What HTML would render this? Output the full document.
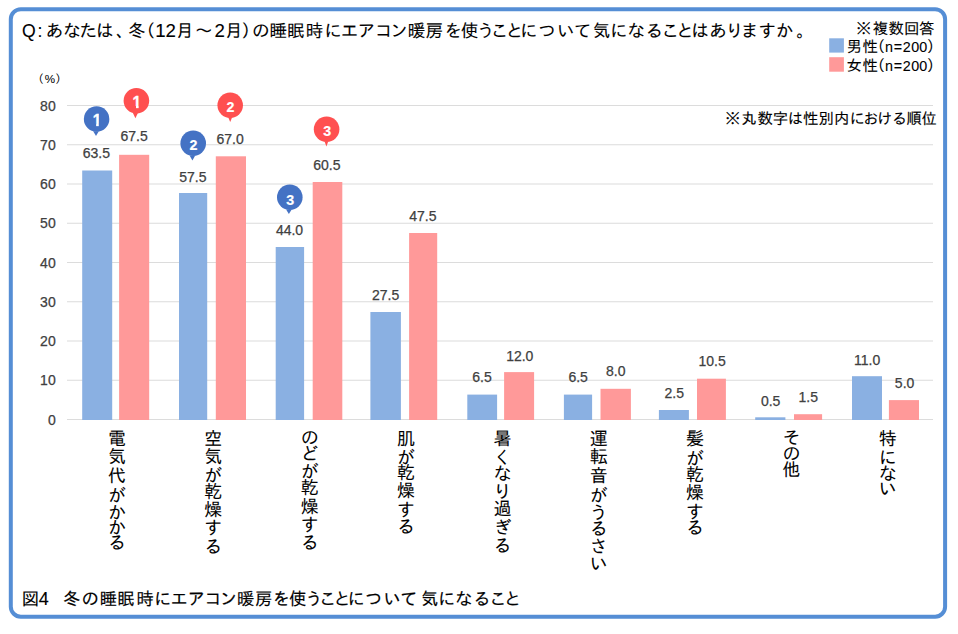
<!DOCTYPE html>
<html lang="ja"><head><meta charset="utf-8"><title>図4 冬の睡眠時にエアコン暖房を使うことについて気になること</title>
<style>html,body{margin:0;padding:0;background:#fff}body{width:958px;height:634px;overflow:hidden}svg{display:block}text{font-family:'Liberation Sans','IPAGothic','Noto Sans CJK JP',sans-serif}.n{font-family:'Liberation Sans',sans-serif;fill:#404040}.w{font-family:'Liberation Sans',sans-serif;font-weight:bold;fill:#fff}</style></head><body>
<svg width="958" height="634" viewBox="0 0 958 634">
<rect width="958" height="634" fill="#fff"/>
<rect x="10.8" y="9.25" width="934.3" height="607.4" rx="10" ry="10" fill="#fff" stroke="#558ED5" stroke-width="4"/>
<g fill="#DCDCDC"><rect x="67" y="105" width="866" height="1"/><rect x="67" y="144.25" width="866" height="1"/><rect x="67" y="183.5" width="866" height="1"/><rect x="67" y="222.75" width="866" height="1"/><rect x="67" y="262" width="866" height="1"/><rect x="67" y="301.25" width="866" height="1"/><rect x="67" y="340.5" width="866" height="1"/><rect x="67" y="379.75" width="866" height="1"/><rect x="67" y="419" width="866" height="1"/></g>
<g fill="#8AB0E2"><rect x="82.2" y="170.5" width="30" height="249.5"/><rect x="179" y="193" width="28.2" height="227"/><rect x="275.7" y="247" width="28.4" height="173"/><rect x="370.4" y="312" width="30.5" height="108"/><rect x="467.3" y="394.6" width="29.8" height="25.4"/><rect x="563.9" y="394.6" width="28.2" height="25.4"/><rect x="658.9" y="410" width="30" height="10"/><rect x="755.2" y="417.3" width="30.2" height="2.7"/><rect x="852" y="376.2" width="30" height="43.8"/><rect x="829.2" y="38.3" width="14.7" height="14.3"/></g>
<g fill="#FF9999"><rect x="119.1" y="154.8" width="30.1" height="265.2"/><rect x="215.8" y="156.3" width="30.2" height="263.7"/><rect x="312.7" y="182" width="29.6" height="238"/><rect x="409.1" y="233" width="28.1" height="187"/><rect x="504.1" y="372.1" width="30" height="47.9"/><rect x="600.5" y="388.8" width="30.4" height="31.2"/><rect x="697" y="378.7" width="28.9" height="41.3"/><rect x="794" y="414.2" width="28.1" height="5.8"/><rect x="888.9" y="400.1" width="30.1" height="19.9"/><rect x="829.2" y="57.2" width="14.7" height="14.5"/></g>
<clipPath id="k"><rect x="-6" y="-13" width="8" height="10.9"/><rect x="-0.9" y="-13" width="2.55" height="13.5"/></clipPath>
<g fill="#4472C4"><circle cx="96.6" cy="119.1" r="12.75"/><path d="M93.2 131.2L98.8 131.2L96 136Z"/></g>
<g transform="translate(97.07,125.9)" clip-path="url(#k)"><text class="w" x="0" y="0" text-anchor="middle" font-size="15.6" stroke="#fff" stroke-width="0.35">1</text></g>
<g fill="#FF5050"><circle cx="136.4" cy="100.7" r="12.8"/><path d="M132.8 112.8L138 112.8L135.4 118.2Z"/></g>
<g transform="translate(136.9,108)" clip-path="url(#k)"><text class="w" x="0" y="0" text-anchor="middle" font-size="15.6" stroke="#fff" stroke-width="0.35">1</text></g>
<g fill="#4472C4"><circle cx="193.2" cy="143.3" r="12.8"/><path d="M189.6 155.4L195.2 155.4L192.4 160.6Z"/></g>
<text class="w" transform="translate(189.58,150.3) scale(0.93,1)" font-size="15.3" stroke="#fff" stroke-width="0.2">2</text>
<g fill="#FF5050"><circle cx="230.2" cy="105.2" r="12.75"/><path d="M228.2 117.3L232.2 117.3L230.2 121.9Z"/></g>
<text class="w" transform="translate(226.58,112) scale(0.93,1)" font-size="15.3" stroke="#fff" stroke-width="0.2">2</text>
<g fill="#4472C4"><circle cx="289.8" cy="197.3" r="12.8"/><path d="M286.1 209.4L291.7 209.4L288.9 214Z"/></g>
<text class="w" transform="translate(286.19,204.9) scale(0.93,1)" font-size="15.3" stroke="#fff" stroke-width="0.2">3</text>
<g fill="#FF5050"><circle cx="326.6" cy="129.2" r="12.8"/><path d="M324.5 141.3L328.3 141.3L326.4 146.4Z"/></g>
<text class="w" transform="translate(323.19,136.1) scale(0.93,1)" font-size="15.3" stroke="#fff" stroke-width="0.2">3</text>
<text class="n" x="82.81" y="157.55" font-size="14" stroke="#404040" stroke-width="0.25">63.5</text>
<text class="n" x="179.29" y="181.65" font-size="14" stroke="#404040" stroke-width="0.25">57.5</text>
<text class="n" x="275.89" y="234.75" font-size="14" stroke="#404040" stroke-width="0.25">44.0</text>
<text class="n" x="371.97" y="299.75" font-size="14" stroke="#404040" stroke-width="0.25">27.5</text>
<text class="n" x="472.31" y="382.35" font-size="14" stroke="#404040" stroke-width="0.25">6.5</text>
<text class="n" x="568.41" y="382.35" font-size="14" stroke="#404040" stroke-width="0.25">6.5</text>
<text class="n" x="664.56" y="397.75" font-size="14" stroke="#404040" stroke-width="0.25">2.5</text>
<text class="n" x="760.94" y="405.75" font-size="14" stroke="#404040" stroke-width="0.25">0.5</text>
<text class="n" x="854.07" y="364.75" font-size="14" stroke="#404040" stroke-width="0.25">11.0</text>
<text class="n" x="120.51" y="141.25" font-size="14" stroke="#404040" stroke-width="0.25">67.5</text>
<text class="n" x="216.49" y="143.65" font-size="14" stroke="#404040" stroke-width="0.25">67.0</text>
<text class="n" x="313.26" y="169.75" font-size="14" stroke="#404040" stroke-width="0.25">60.5</text>
<text class="n" x="409.21" y="220.65" font-size="14" stroke="#404040" stroke-width="0.25">47.5</text>
<text class="n" x="506.17" y="360.95" font-size="14" stroke="#404040" stroke-width="0.25">12.0</text>
<text class="n" x="606.04" y="376.35" font-size="14" stroke="#404040" stroke-width="0.25">8.0</text>
<text class="n" x="698.44" y="366.45" font-size="14" stroke="#404040" stroke-width="0.25">10.5</text>
<text class="n" x="798.58" y="401.85" font-size="14" stroke="#404040" stroke-width="0.25">1.5</text>
<text class="n" x="894.86" y="387.55" font-size="14" stroke="#404040" stroke-width="0.25">5.0</text>
<text class="n" x="55.7" y="110.7" text-anchor="end" font-size="14" stroke="#404040" stroke-width="0.25">80</text>
<text class="n" x="55.7" y="149.95" text-anchor="end" font-size="14" stroke="#404040" stroke-width="0.25">70</text>
<text class="n" x="55.7" y="189.2" text-anchor="end" font-size="14" stroke="#404040" stroke-width="0.25">60</text>
<text class="n" x="55.7" y="228.45" text-anchor="end" font-size="14" stroke="#404040" stroke-width="0.25">50</text>
<text class="n" x="55.7" y="267.7" text-anchor="end" font-size="14" stroke="#404040" stroke-width="0.25">40</text>
<text class="n" x="55.7" y="306.95" text-anchor="end" font-size="14" stroke="#404040" stroke-width="0.25">30</text>
<text class="n" x="55.7" y="346.2" text-anchor="end" font-size="14" stroke="#404040" stroke-width="0.25">20</text>
<text class="n" x="55.7" y="385.45" text-anchor="end" font-size="14" stroke="#404040" stroke-width="0.25">10</text>
<text class="n" x="55.7" y="424.7" text-anchor="end" font-size="14" stroke="#404040" stroke-width="0.25">0</text>
<text x="32.18 44.84 55.22" y="83.3" font-size="11.6" fill="#000" stroke="#000" stroke-width="0.05">（%）</text>
<text x="21.91 37.61 45.69 62.88 79.54 95.95 116.03 127.91 137.59 155.36 165.56 176.09 195 214.61 225.09 241.41 251.97 269.61 286.96 305.78 324.31 340.7 357.53 374.92 390.32 407.66 425.54 444.58 460.66 477.12 490.7 505.79 519.91 538.17 556.96 573.88 592.66 609.91 627.23 645.51 661.55 676.34 691.2 709.19 725.72 740.75 758.5 775.83 796.22" y="37.3" font-size="17.6" fill="#000" stroke="#000" stroke-width="0.1">Q:あなたは、冬（<tspan font-size="18.66">12</tspan>月～<tspan font-size="18.66">2</tspan>月）の睡眠時にエアコン暖房を使うことについて気になることはありますか。</text>
<text x="856.1 872.67 888.48 904.06 919.12" y="33.8" font-size="15.4" fill="#000" stroke="#000" stroke-width="0.1">※複数回答</text>
<text x="846.53 862.56 869.83 885.01 893.77 902.77 911.17 919.27 926.82" y="51.8" font-size="15.4" fill="#000" stroke="#000" stroke-width="0.1">男性（<tspan font-size="14.32">n=200</tspan>）</text>
<text x="846.4 862.56 869.83 885.01 893.77 902.77 911.17 919.27 926.82" y="70.6" font-size="15.4" fill="#000" stroke="#000" stroke-width="0.1">女性（<tspan font-size="14.32">n=200</tspan>）</text>
<text x="725.05 741.36 757.38 772.74 787.66 803.01 818.49 833.96 849.54 863.24 877.11 891.84 906.62 921.62" y="124.3" font-size="15.4" fill="#000" stroke="#000" stroke-width="0.1">※丸数字は性別内における順位</text>
<text x="21.64 38.85 50 63.1 81.46 99.65 117.3 136.42 153.95 170.49 187.47 204.45 219.66 237.05 254.92 272.67 288.99 305.15 319.03 333.38 347.4 364.89 383.39 400.3 421.04 437.95 455.02 473.2 489.28 504.08" y="604.7" font-size="17.33" fill="#000" stroke="#000" stroke-width="0.16">図<tspan font-size="18.02">4</tspan>　冬の睡眠時にエアコン暖房を使うことについて気になること</text>
<text x="108.1 108.1 108.1 108.1 108.1 108.1 108.1" y="444.95 463.45 481.71 501.73 518.71 534.11 549.41" font-size="18" stroke="#000" stroke-width="0.07">電気代がかかる</text>
<text x="204.3 204.3 204.3 204.3 204.3 204.3 204.3" y="445.45 463.45 481.98 497.89 515.84 534.22 552.81" font-size="18" stroke="#000" stroke-width="0.07">空気が乾燥する</text>
<text x="300.8 300.8 300.8 300.8 300.8 300.8 300.8" y="444.22 460.38 478.28 494.49 513.24 531.07 548.61" font-size="18" stroke="#000" stroke-width="0.07">のどが乾燥する</text>
<text x="396.9 396.9 396.9 396.9 396.9 396.9" y="444.69 463.58 479.34 497.24 516.17 533.41" font-size="18" stroke="#000" stroke-width="0.07">肌が乾燥する</text>
<text x="493.4 493.4 493.4 493.4 493.4 493.4 493.4" y="444.99 463.54 480.45 497.58 515.48 534.48 551.91" font-size="18" stroke="#000" stroke-width="0.07">暑くなり過ぎる</text>
<text x="589.7 589.7 589.7 589.7 589.7 589.7 589.7 589.7" y="444.52 463.39 481.62 502.23 518.63 535.41 553.16 569.69" font-size="18" stroke="#000" stroke-width="0.07">運転音がうるさい</text>
<text x="685.9 685.9 685.9 685.9 685.9 685.9" y="444.76 464.63 480.64 499.29 517.87 533.76" font-size="18" stroke="#000" stroke-width="0.07">髪が乾燥する</text>
<text x="782.6 782.6 782.6" y="444.32 459.92 476.1" font-size="18" stroke="#000" stroke-width="0.07">その他</text>
<text x="878.7 878.7 878.7 878.7" y="444.89 463.59 479.65 494.59" font-size="18" stroke="#000" stroke-width="0.07">特にない</text>
</svg></body></html>
